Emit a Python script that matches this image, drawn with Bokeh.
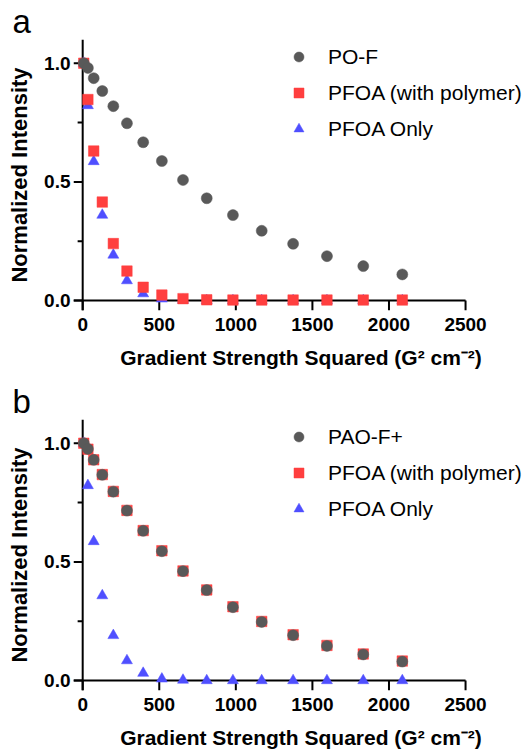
from bokeh.plotting import figure
from bokeh.models import (FixedTicker, PrintfTickFormatter, Legend, LegendItem,
                          Range1d)
from bokeh.layouts import column
from bokeh.embed import file_html
from bokeh.resources import INLINE

# ---------------- data ----------------
gradient_sq = [7, 34, 72, 128, 200, 289, 395, 517, 655, 810, 981, 1169, 1374, 1595, 1832, 2087]

a_pof = [1.0, 0.98, 0.937, 0.883, 0.819, 0.747, 0.667, 0.588, 0.508, 0.431, 0.36, 0.294, 0.239, 0.187, 0.145, 0.11]
a_pfoa_poly = [1.0, 0.847, 0.63, 0.415, 0.24, 0.124, 0.056, 0.023, 0.008, 0.003, 0.002, 0.002, 0.002, 0.002, 0.002, 0.002]
a_pfoa_only = [1.0, 0.822, 0.586, 0.36, 0.192, 0.084, 0.029, 0.007, 0.002, 0.0, 0.0, 0.0, 0.0, 0.0, 0.0, 0.0]

b_paof = [1.0, 0.976, 0.93, 0.867, 0.796, 0.716, 0.631, 0.545, 0.461, 0.381, 0.309, 0.247, 0.191, 0.146, 0.110, 0.080]
b_pfoa_poly = [1.0, 0.975, 0.93, 0.868, 0.797, 0.717, 0.632, 0.547, 0.462, 0.382, 0.311, 0.249, 0.193, 0.148, 0.112, 0.082]
b_pfoa_only = [1.0, 0.822, 0.586, 0.358, 0.19, 0.084, 0.031, 0.007, 0.002, 0.0, 0.0, 0.0, 0.0, 0.0, 0.0, 0.0]

x_ticks = [0, 500, 1000, 1500, 2000, 2500]
y_ticks = [0.0, 0.5, 1.0]
y_minor = [0.25, 0.75]

GRAY = "#595959"
RED = "#FF3F3F"
BLUE = "#4F4FFF"
FONT = "Liberation Sans"

# view limits (data units); the origin lines sit inside the frame
X_START, X_END = -60, 2911
Y_START, Y_END = -0.042, 1.1
MINOR_TICK_X = -33          # minor tick reach to the left of the y axis
RULE_PX = 2                 # thickness of axis rules and ticks (screen px)


def make_panel(letter, circ_name, circ, sq, tri, bottom_border):
    p = figure(frame_width=455, frame_height=271,
               min_border_left=73, min_border_right=0,
               min_border_top=38, min_border_bottom=bottom_border,
               x_range=Range1d(X_START, X_END), y_range=Range1d(Y_START, Y_END),
               output_backend="svg", toolbar_location=None)
    p.outline_line_color = None
    p.grid.visible = False
    p.background_fill_color = "white"
    p.border_fill_color = "white"

    # axis rules through the origin and their ticks, as filled bars beneath the markers
    x_last = x_ticks[-1]
    nx, ny, nm = len(x_ticks), len(y_ticks), len(y_minor)
    rule = dict(fill_color="black", line_color=None)
    # x axis rule
    p.rect(x=[(X_START + x_last) / 2], y=[0], width=[x_last - X_START],
           height=RULE_PX, height_units="screen", **rule)
    # y axis rule
    p.rect(x=[0], y=[(Y_START + Y_END) / 2], width=RULE_PX, width_units="screen",
           height=[Y_END - Y_START], **rule)
    # x major ticks (downwards)
    p.rect(x=x_ticks, y=[Y_START / 2] * nx, width=RULE_PX, width_units="screen",
           height=[-Y_START] * nx, **rule)
    # y major ticks (leftwards)
    p.rect(x=[X_START / 2] * ny, y=y_ticks, width=[-X_START] * ny,
           height=RULE_PX, height_units="screen", **rule)
    # y minor ticks
    p.rect(x=[MINOR_TICK_X / 2] * nm, y=y_minor, width=[-MINOR_TICK_X] * nm,
           height=RULE_PX, height_units="screen", **rule)

    r_tri = p.scatter(gradient_sq, tri, marker="triangle", size=11,
                      fill_color=BLUE, line_color=BLUE, line_width=0.5)
    r_sq = p.scatter(gradient_sq, sq, marker="square", size=10.5,
                     fill_color=RED, line_color=RED, line_width=0.5)
    r_circ = p.scatter(gradient_sq, circ, marker="circle", size=11,
                       fill_color=GRAY, line_color=GRAY, line_width=0.5)

    # tick labels and axis titles
    for ax in (p.xaxis[0], p.yaxis[0]):
        ax.axis_line_color = None
        ax.major_tick_line_color = None
        ax.minor_tick_line_color = None
        ax.major_tick_in = 0
        ax.major_tick_out = 0
        ax.minor_tick_in = 0
        ax.minor_tick_out = 0
        ax.major_label_text_font = FONT
        ax.major_label_text_font_style = "bold"
        ax.major_label_text_font_size = "19px"
        ax.major_label_text_color = "black"
        ax.axis_label_text_font = FONT
        ax.axis_label_text_font_style = "bold"
        ax.axis_label_text_color = "black"

    xa = p.xaxis[0]
    xa.ticker = FixedTicker(ticks=x_ticks, minor_ticks=[])
    xa.major_label_standoff = 7
    xa.axis_label = "Gradient Strength Squared (G² cm⁻²)"
    xa.axis_label_text_font_size = "21px"
    xa.axis_label_standoff = 12

    ya = p.yaxis[0]
    ya.ticker = FixedTicker(ticks=y_ticks, minor_ticks=[])
    ya.formatter = PrintfTickFormatter(format="%.1f")
    ya.major_label_standoff = 3
    ya.axis_label = "Normalized Intensity"
    ya.axis_label_text_font_size = "22px"
    ya.axis_label_standoff = 9

    legend = Legend(items=[LegendItem(label=circ_name, renderers=[r_circ]),
                           LegendItem(label="PFOA (with polymer)", renderers=[r_sq]),
                           LegendItem(label="PFOA Only", renderers=[r_tri])],
                    location=(213, 169), padding=0, margin=0, spacing=11,
                    glyph_width=25, glyph_height=25, label_height=25,
                    label_standoff=17, label_text_font=FONT,
                    label_text_font_size="21px", label_text_color="black",
                    border_line_alpha=0, background_fill_alpha=0)
    p.add_layout(legend, "center")

    p.title.text = letter
    p.title.align = "left"
    p.title.offset = -61
    p.title.standoff = 0
    p.title.vertical_align = "bottom"
    p.title.text_font = FONT
    p.title.text_font_style = "normal"
    p.title.text_font_size = "33px"
    p.title.text_color = "black"
    return p


pa = make_panel("a", "PO-F", a_pof, a_pfoa_poly, a_pfoa_only, 70)
pb = make_panel("b", "PAO-F+", b_paof, b_pfoa_poly, b_pfoa_only, 64)

layout = column(pa, pb, spacing=0)
open("out.html", "w").write(file_html(layout, INLINE))
